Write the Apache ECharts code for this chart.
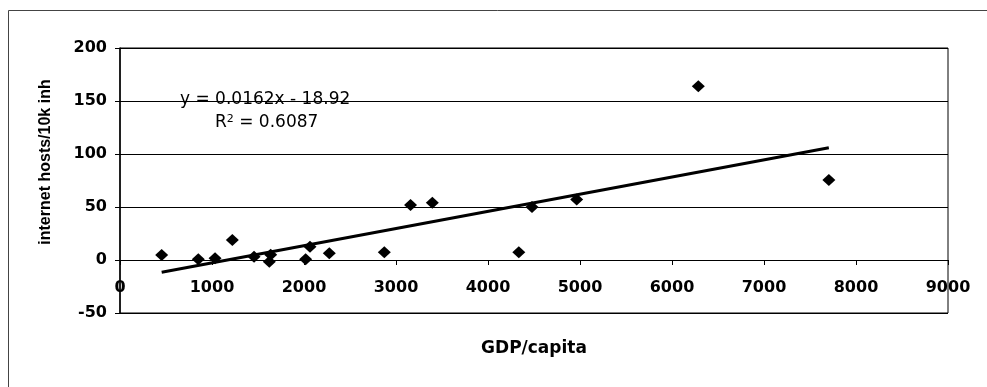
<!DOCTYPE html>
<html>
<head>
<meta charset="utf-8">
<script src="https://cdn.jsdelivr.net/npm/echarts@6/dist/echarts.min.js"></script>
<style>
html,body{margin:0;padding:0;background:#fff;}
#chart{width:987px;height:387px;}
</style>
</head>
<body>
<div id="chart"></div>
<script>
// GDP per capita (x) and internet hosts per 10k inhabitants (y)
var gdpPerCapita = [453, 851, 1033, 1221, 1457, 1623, 1638, 2018, 2065, 2275, 2873, 3158, 3395, 4335, 4478, 4964, 6286, 7705];
var hostsPer10k  = [4.7, 0.7, 1.6, 18.9, 3.1, -1.6, 5.0, 0.7, 12.5, 6.3, 7.2, 51.9, 54.0, 7.2, 50.0, 57.0, 164.0, 75.5];

// Linear trendline reported on the chart
var trendSlope = 0.0162;
var trendIntercept = -18.92;
var trendR2 = '0.6087';

var xAxisName = 'GDP/capita';
var yAxisName = 'internet hosts/10k inh';
var xTicks = {min: 0, max: 9000, step: 1000};
var yTicks = {min: -50, max: 200, step: 50};

var points = gdpPerCapita.map(function (x, i) { return [x, hostsPer10k[i]]; });
var xMin = Math.min.apply(null, gdpPerCapita);
var xMax = Math.max.apply(null, gdpPerCapita);
var trend = [[xMin, trendSlope * xMin + trendIntercept], [xMax, trendSlope * xMax + trendIntercept]];

var gridTop = 48, gridBottom = 74, chartH = 387;
// pixel distance from the bottom of the grid up to the y = 0 line
var zeroOffset = (chartH - gridBottom - gridTop) * (0 - yTicks.min) / (yTicks.max - yTicks.min);

var chart = echarts.init(document.getElementById('chart'), null, {renderer: 'canvas'});
var lab = {fontFamily: 'DejaVu Sans', fontWeight: 'bold', fontSize: 16, color: '#000', formatter: function (v) { return String(v); }};

chart.setOption({
  backgroundColor: '#fff',
  animation: false,
  grid: {left: 120, right: 39, top: gridTop, bottom: gridBottom, containLabel: false, outerBoundsMode: 'none',
    show: true, borderColor: '#000', borderWidth: 1, backgroundColor: 'transparent'},
  xAxis: {
    type: 'value', min: xTicks.min, max: xTicks.max, interval: xTicks.step,
    position: 'bottom', offset: -zeroOffset,
    name: xAxisName, nameLocation: 'middle', nameGap: 80,
    nameTextStyle: {fontFamily: 'DejaVu Sans', fontWeight: 'bold', fontSize: 17, color: '#000'},
    axisLine: {show: true, onZero: false, lineStyle: {color: '#000', width: 1}},
    axisTick: {show: true, inside: false, length: 5, lineStyle: {color: '#000'}},
    axisLabel: Object.assign({margin: 20, showMinLabel: true, showMaxLabel: true}, lab),
    splitLine: {show: false}
  },
  yAxis: {
    type: 'value', min: yTicks.min, max: yTicks.max, interval: yTicks.step,
    axisLine: {show: true, onZero: false, lineStyle: {color: '#000', width: 1.5}},
    axisTick: {show: true, inside: false, length: 5, lineStyle: {color: '#000'}},
    axisLabel: Object.assign({margin: 13}, lab),
    splitLine: {show: true, lineStyle: {color: '#000', width: 1}}
  },
  series: [
    {
      type: 'line', data: trend, symbol: 'none', silent: true,
      lineStyle: {color: '#000', width: 3}, z: 3
    },
    {
      type: 'scatter', data: points, symbol: 'diamond', symbolSize: [13, 12],
      itemStyle: {color: '#000', opacity: 1}, z: 4
    }
  ],
  graphic: [
    {type: 'line', shape: {x1: 8.5, y1: 10.5, x2: 987, y2: 10.5}, style: {stroke: '#444', lineWidth: 1}},
    {type: 'line', shape: {x1: 8.5, y1: 10.5, x2: 8.5, y2: 387}, style: {stroke: '#444', lineWidth: 1}},
    {type: 'text', x: 46, y: 162, rotation: Math.PI / 2,
      style: {text: yAxisName, fontFamily: 'Liberation Sans', fontWeight: 'bold', fontSize: 16, fill: '#000', textAlign: 'center', textVerticalAlign: 'middle'}},
    {type: 'text', x: 180, y: 100, z: 10,
      style: {text: 'y = ' + trendSlope + 'x - ' + Math.abs(trendIntercept), fontFamily: 'DejaVu Sans', fontSize: 17, fill: '#000', textAlign: 'left', textVerticalAlign: 'middle'}},
    {type: 'text', x: 215, y: 123, z: 10,
      style: {text: '{r|R}{s|2}{r| = ' + trendR2 + '}', textAlign: 'left', textVerticalAlign: 'middle',
        rich: {r: {fontFamily: 'DejaVu Sans', fontSize: 17, color: '#000'},
               s: {fontFamily: 'DejaVu Sans', fontSize: 11, color: '#000', verticalAlign: 'top', padding: [0, 0, 8, 0]}}}}
  ]
});
</script>
</body>
</html>
